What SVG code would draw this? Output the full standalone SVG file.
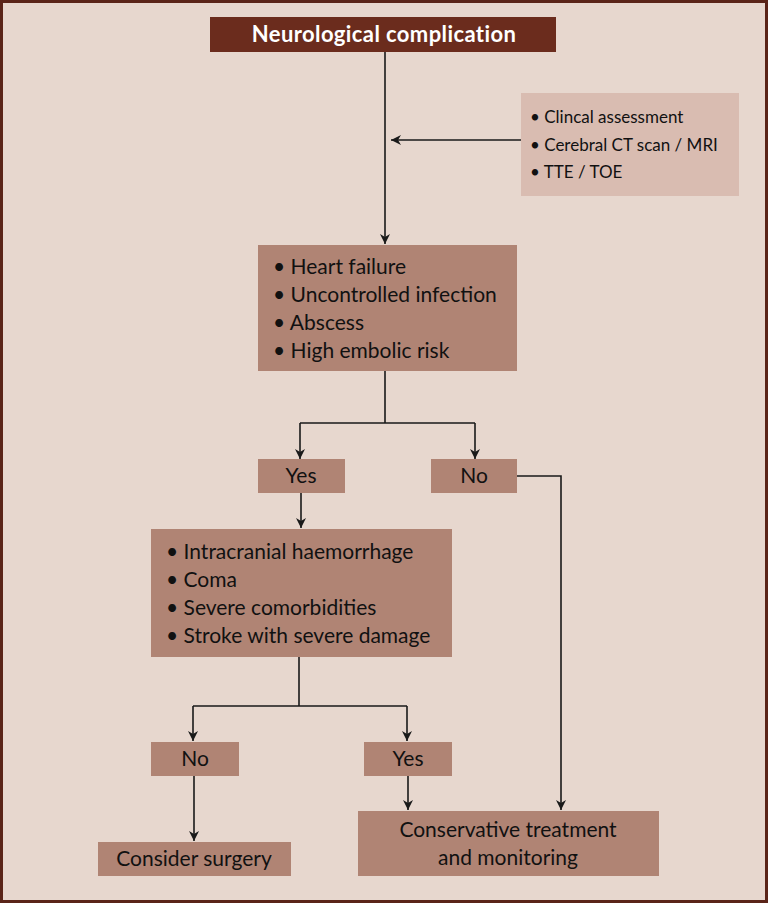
<svg xmlns="http://www.w3.org/2000/svg" width="768" height="903" viewBox="0 0 768 903">
<style>
.bg{fill:#e7d7ce;stroke:#5a2418;stroke-width:3}
.box{fill:#b08474}
.side{fill:#d9bcb1}
.hdr{fill:#6b2c1d}
.t{font-family:Lato,"Liberation Sans",sans-serif;font-size:21px;fill:#111}
.ts{font-family:Lato,"Liberation Sans",sans-serif;font-size:17px;fill:#111}
.th{font-family:Lato,"Liberation Sans",sans-serif;font-size:22px;font-weight:bold;fill:#fff;letter-spacing:0.4px}
.c{fill:none;stroke:#1a1a1a;stroke-width:1.6}
</style>
<defs>
<marker id="ah" viewBox="0 0 10 10" refX="10" refY="5" markerWidth="10" markerHeight="10" markerUnits="userSpaceOnUse" orient="auto">
<path d="M0,0 L10,5 L0,10 L3,5 Z" fill="#1a1a1a"/>
</marker>
</defs>
<rect class="bg" x="1.5" y="1.5" width="765" height="900"/>
<g id="connectors">
<path class="c" d="M385,52 V244" marker-end="url(#ah)"/>
<path class="c" d="M521,140 H391" marker-end="url(#ah)"/>
<path class="c" d="M385,371 V423 M300,423 H475"/>
<path class="c" d="M300,423 V459" marker-end="url(#ah)"/>
<path class="c" d="M475,423 V459" marker-end="url(#ah)"/>
<path class="c" d="M517,476 H561 V810" marker-end="url(#ah)"/>
<path class="c" d="M301,493 V528" marker-end="url(#ah)"/>
<path class="c" d="M299,657 V706 M193,706 H407"/>
<path class="c" d="M193,706 V741" marker-end="url(#ah)"/>
<path class="c" d="M407,706 V741" marker-end="url(#ah)"/>
<path class="c" d="M194,776 V841" marker-end="url(#ah)"/>
<path class="c" d="M408,776 V810" marker-end="url(#ah)"/>
</g>
<g id="n-header">
<rect class="hdr" x="210" y="17" width="346" height="35"/>
<text class="th" x="384" y="42" text-anchor="middle">Neurological complication</text>
</g>
<g id="n-assess">
<rect class="side" x="521" y="93" width="218" height="103"/>
<text class="ts" x="530" y="123">• Clincal assessment</text>
<text class="ts" x="530" y="151">• Cerebral CT scan / MRI</text>
<text class="ts" x="530" y="178">• TTE / TOE</text>
</g>
<g id="n-criteria">
<rect class="box" x="258" y="245" width="259" height="126"/>
<text class="t" x="273" y="274">• Heart failure</text>
<text class="t" x="273" y="302">• Uncontrolled infection</text>
<text class="t" x="273" y="330">• Abscess</text>
<text class="t" x="273" y="358">• High embolic risk</text>
</g>
<g id="n-yes1">
<rect class="box" x="258" y="459" width="87" height="34"/>
<text class="t" x="301" y="483" text-anchor="middle">Yes</text>
</g>
<g id="n-no1">
<rect class="box" x="431" y="459" width="86" height="34"/>
<text class="t" x="474" y="483" text-anchor="middle">No</text>
</g>
<g id="n-contra">
<rect class="box" x="151" y="529" width="301" height="128"/>
<text class="t" x="166" y="559">• Intracranial haemorrhage</text>
<text class="t" x="166" y="587">• Coma</text>
<text class="t" x="166" y="615">• Severe comorbidities</text>
<text class="t" x="166" y="643">• Stroke with severe damage</text>
</g>
<g id="n-no2">
<rect class="box" x="151" y="742" width="88" height="34"/>
<text class="t" x="195" y="766" text-anchor="middle">No</text>
</g>
<g id="n-yes2">
<rect class="box" x="364" y="742" width="88" height="34"/>
<text class="t" x="408" y="766" text-anchor="middle">Yes</text>
</g>
<g id="n-surgery">
<rect class="box" x="98" y="842" width="193" height="34"/>
<text class="t" x="194" y="866" text-anchor="middle">Consider surgery</text>
</g>
<g id="n-conservative">
<rect class="box" x="358" y="811" width="301" height="65"/>
<text class="t" x="508" y="837" text-anchor="middle">Conservative treatment</text>
<text class="t" x="508" y="865" text-anchor="middle">and monitoring</text>
</g>
</svg>
